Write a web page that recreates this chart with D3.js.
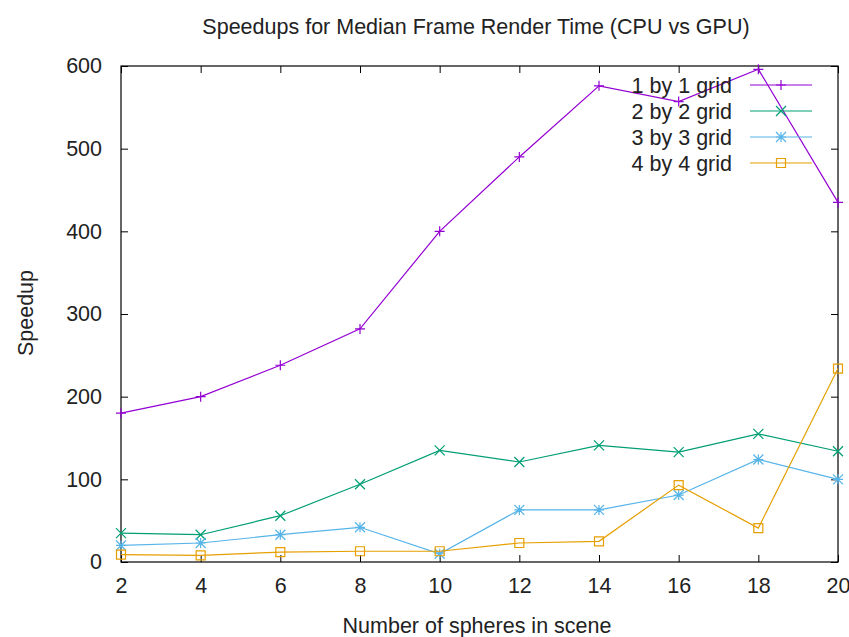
<!DOCTYPE html>
<html>
<head>
<meta charset="utf-8">
<script src="https://cdn.jsdelivr.net/npm/d3@7"></script>
<style>
  body { margin: 0; background: #fff; }
  text { font-family: "Liberation Sans", Arial, sans-serif; fill: #222; }
</style>
</head>
<body>
<div id="chart"></div>
<script>
// data
var spheres = [2, 4, 6, 8, 10, 12, 14, 16, 18, 20];
var grid1 = [180, 200, 238, 282, 400, 490, 576, 557, 596, 435];
var grid2 = [35, 33, 56, 94, 135, 121, 141, 133, 155, 134];
var grid3 = [20, 23, 33, 42, 10, 63, 63, 81, 124, 100];
var grid4 = [9, 8, 12, 13, 13, 23, 25, 93, 41, 234];
var seriesNames = ["1 by 1 grid", "2 by 2 grid", "3 by 3 grid", "4 by 4 grid"];
var seriesColors = ["#9400d3", "#009e73", "#56b4e9", "#e69f00"];
var seriesMarks = ["plus", "cross", "star", "square"];
var xTicks = [2, 4, 6, 8, 10, 12, 14, 16, 18, 20];
var yTicks = [0, 100, 200, 300, 400, 500, 600];

var W = 849, H = 637;
var plotL = 121, plotR = 838, plotT = 66, plotB = 562;
var fs = "21.5px";

var svg = d3.select("#chart").append("svg").attr("width", W).attr("height", H);

var x = d3.scaleLinear().domain([2, 20]).range([plotL, plotR]);
var y = d3.scaleLinear().domain([0, 600]).range([plotB, plotT]);

function styleAxis(g) {
  g.select(".domain").remove();
  g.selectAll("line").attr("stroke", "#000");
  g.selectAll("text").style("font-size", fs).attr("fill", "#222")
    .style("font-family", '"Liberation Sans", Arial, sans-serif');
}

svg.append("g").attr("transform", "translate(0," + plotB + ")")
  .call(d3.axisBottom(x).tickValues(xTicks).tickSize(-7).tickPadding(16))
  .call(styleAxis);
svg.append("g").attr("transform", "translate(0," + plotT + ")")
  .call(d3.axisTop(x).tickValues(xTicks).tickSize(-7).tickFormat(""))
  .call(styleAxis);
svg.append("g").attr("transform", "translate(" + plotL + ",0)")
  .call(d3.axisLeft(y).tickValues(yTicks).tickSize(-7).tickPadding(19))
  .call(styleAxis);
svg.append("g").attr("transform", "translate(" + plotR + ",0)")
  .call(d3.axisRight(y).tickValues(yTicks).tickSize(-7).tickFormat(""))
  .call(styleAxis);

svg.append("rect").attr("x", plotL).attr("y", plotT)
  .attr("width", plotR - plotL).attr("height", plotB - plotT)
  .attr("fill", "none").attr("stroke", "#000").attr("stroke-width", 1.2);

// titles
svg.append("text").attr("x", 476).attr("y", 34).attr("text-anchor", "middle")
  .style("font-size", fs).text("Speedups for Median Frame Render Time (CPU vs GPU)");
svg.append("text").attr("x", 477).attr("y", 633).attr("text-anchor", "middle")
  .style("font-size", fs).text("Number of spheres in scene");
svg.append("text").attr("transform", "translate(33,313) rotate(-90)")
  .attr("text-anchor", "middle").style("font-size", fs).text("Speedup");

function drawMark(g, type, cx, cy, color) {
  var s = 5;
  var p;
  if (type == "plus") {
    p = "M" + (cx - s) + "," + cy + "h" + 2 * s + "M" + cx + "," + (cy - s) + "v" + 2 * s;
  } else if (type == "cross") {
    p = "M" + (cx - s) + "," + (cy - s) + "l" + 2 * s + "," + 2 * s + "M" + (cx - s) + "," + (cy + s) + "l" + 2 * s + "," + (-2 * s);
  } else if (type == "star") {
    p = "M" + (cx - s) + "," + cy + "h" + 2 * s + "M" + cx + "," + (cy - s) + "v" + 2 * s +
      "M" + (cx - s) + "," + (cy - s) + "l" + 2 * s + "," + 2 * s + "M" + (cx - s) + "," + (cy + s) + "l" + 2 * s + "," + (-2 * s);
  } else {
    p = "M" + (cx - 4.5) + "," + (cy - 4.5) + "h9v9h-9z";
  }
  g.append("path").attr("d", p).attr("fill", "none").attr("stroke", color).attr("stroke-width", 1.2);
}

var allSeries = [grid1, grid2, grid3, grid4];
var line = d3.line().x(function(d) { return x(d[0]); }).y(function(d) { return y(d[1]); });

allSeries.forEach(function(vals, i) {
  var pts = spheres.map(function(s, j) { return [s, vals[j]]; });
  var g = svg.append("g");
  g.append("path").datum(pts).attr("d", line)
    .attr("fill", "none").attr("stroke", seriesColors[i]).attr("stroke-width", 1.2);
  pts.forEach(function(p) {
    drawMark(g, seriesMarks[i], x(p[0]), y(p[1]), seriesColors[i]);
  });

  // key entry
  var ky = 85 + i * 26;
  svg.append("text").attr("x", 732).attr("y", ky).attr("dy", "0.35em")
    .attr("text-anchor", "end").style("font-size", fs).text(seriesNames[i]);
  svg.append("line").attr("x1", 750).attr("x2", 812).attr("y1", ky).attr("y2", ky)
    .attr("stroke", seriesColors[i]).attr("stroke-width", 1.2);
  drawMark(svg, seriesMarks[i], 781, ky, seriesColors[i]);
});
</script>
</body>
</html>
